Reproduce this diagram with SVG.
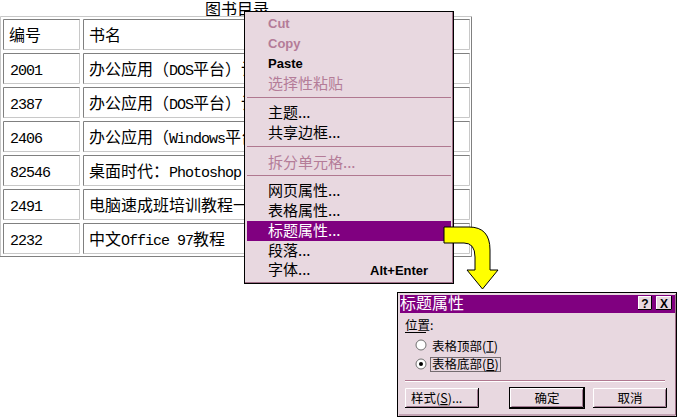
<svg xmlns="http://www.w3.org/2000/svg" width="678" height="418" viewBox="0 0 678 418">
<style>
text{font-family:"Noto Sans CJK SC","Noto Sans CJK JP",sans-serif;fill:#000}
.t{font-size:16px}
.m{font-family:"Liberation Mono",monospace;font-size:15px;letter-spacing:-1px}
.mi{font-size:15px}
.dis{fill:#b47c98}
.en{font-family:"Liberation Sans",Arial,sans-serif;font-weight:bold;font-size:13px}
.sep{stroke:#b07890;stroke-width:1}
.dl{font-size:12.5px}
.lt{stroke:#c8c8c8;fill:none}
.dk{stroke:#808080;fill:none}
</style>
<defs>
<g id="cellA"><path class="dk" d="M0.5,31 V0.5 H77"/><path class="lt" d="M76.5,0.5 V30.5 H0.5"/></g>
<g id="cellB"><path class="dk" d="M0.5,31 V0.5 H387"/><path class="lt" d="M386.5,0.5 V30.5 H0.5"/></g>
<g id="btn">
<rect width="74" height="20" fill="#e8d8e0"/>
<path d="M0.5,19.5 V0.5 H73.5" stroke="#fff" fill="none"/>
<path d="M0,19.5 H73.5 V0" stroke="#000" fill="none"/>
<path d="M1.5,18.5 H72.5 V1.5" stroke="#a07890" fill="none"/>
</g>
</defs>
<rect width="678" height="418" fill="#fff"/>

<g id="table">
<text class="t" x="205" y="15">图书目录</text>
<path class="lt" d="M0.5,256 V16.5 H471"/>
<path class="dk" d="M471.5,16.5 V256.5 H0"/>
<use href="#cellA" x="3" y="19"/><use href="#cellB" x="83" y="19"/>
<use href="#cellA" x="3" y="53"/><use href="#cellB" x="83" y="53"/>
<use href="#cellA" x="3" y="87"/><use href="#cellB" x="83" y="87"/>
<use href="#cellA" x="3" y="121"/><use href="#cellB" x="83" y="121"/>
<use href="#cellA" x="3" y="155"/><use href="#cellB" x="83" y="155"/>
<use href="#cellA" x="3" y="189"/><use href="#cellB" x="83" y="189"/>
<use href="#cellA" x="3" y="223"/><use href="#cellB" x="83" y="223"/>
<text class="t" x="9" y="41">编号</text>
<text class="t" x="89" y="41">书名</text>
<text class="m" x="10" y="75">2001</text>
<text class="t" x="89" y="75">办公应用（<tspan class="m">DOS</tspan>平台）计</text>
<text class="m" x="10" y="109">2387</text>
<text class="t" x="89" y="109">办公应用（<tspan class="m">DOS</tspan>平台）计</text>
<text class="m" x="10" y="143">2406</text>
<text class="t" x="89" y="143">办公应用（<tspan class="m">Windows</tspan>平台</text>
<text class="m" x="10" y="177">82546</text>
<text class="t" x="89" y="177">桌面时代：<tspan class="m">Photoshop</tspan></text>
<text class="m" x="10" y="211">2491</text>
<text class="t" x="89" y="211">电脑速成班培训教程一</text>
<text class="m" x="10" y="245">2232</text>
<text class="t" x="89" y="245">中文<tspan class="m">Office 97</tspan>教程</text>
</g>

<g id="menu">
<rect x="244.5" y="11.5" width="209" height="272" fill="#e8d8e0" stroke="#000"/>
<path d="M452.5,12 V283 M245,282.5 H453" stroke="#a07088" fill="none"/>
<text class="en dis" x="268" y="28">Cut</text>
<text class="en dis" x="268" y="48">Copy</text>
<text class="en" x="268" y="68">Paste</text>
<text class="mi dis" x="268" y="89">选择性粘贴</text>
<line class="sep" x1="247" y1="97.5" x2="451" y2="97.5"/>
<text class="mi" x="268" y="118">主题...</text>
<text class="mi" x="268" y="138">共享边框...</text>
<line class="sep" x1="247" y1="146.5" x2="451" y2="146.5"/>
<text class="mi dis" x="268" y="168">拆分单元格...</text>
<line class="sep" x1="247" y1="175.5" x2="451" y2="175.5"/>
<text class="mi" x="268" y="196">网页属性...</text>
<text class="mi" x="268" y="216">表格属性...</text>
<rect x="247" y="221" width="204" height="20" fill="#800080"/>
<text class="mi" x="268" y="236" style="fill:#fff">标题属性...</text>
<text class="mi" x="268" y="256">段落...</text>
<text class="mi" x="268" y="275">字体...</text>
<text class="en" x="370" y="275">Alt+Enter</text>
</g>

<g id="connectors">
<path d="M444,227 H469 Q490,227 490,250 V270 H498 L482.5,289 L467,270 H475 V257 Q475,243 464,243 H444 Z" fill="#ffff00" stroke="#000" stroke-width="1"/>
</g>

<g id="dialog">
<rect x="397.5" y="292.5" width="279" height="124" fill="#e8d8e0" stroke="#000"/>
<path d="M675.5,294 V415 H399" stroke="#a07088" fill="none"/>
<rect x="400" y="295" width="275" height="18" fill="#800080"/>
<text x="400" y="309" style="font-size:16px;fill:#fff">标题属性</text>
<rect x="638" y="296" width="14" height="14" fill="#e8d8e0"/>
<path d="M638.5,309.5 V296.5 H651.5" stroke="#fff" fill="none"/>
<path d="M638,309.5 H651.5 V296" stroke="#000" fill="none"/>
<text x="645" y="307.5" text-anchor="middle" style="font-family:'Liberation Sans',Arial,sans-serif;font-weight:bold;font-size:12px">?</text>
<rect x="656" y="296" width="16" height="14" fill="#e8d8e0"/>
<path d="M656.5,309.5 V296.5 H671.5" stroke="#fff" fill="none"/>
<path d="M656,309.5 H671.5 V296" stroke="#000" fill="none"/>
<text x="664" y="307.5" text-anchor="middle" style="font-family:'Liberation Sans',Arial,sans-serif;font-weight:bold;font-size:12px">X</text>
<text class="dl" x="405" y="330">位置:</text>
<line x1="405" y1="332.5" x2="426" y2="332.5" stroke="#000"/>
<circle cx="421" cy="345" r="5" fill="#fff" stroke="#707070"/>
<text class="dl" x="432" y="350.5">表格顶部(<tspan style="text-decoration:underline">T</tspan>)</text>
<circle cx="421" cy="364" r="5" fill="#fff" stroke="#707070"/>
<circle cx="421" cy="364" r="2" fill="#000"/>
<text class="dl" x="432" y="369">表格底部(<tspan style="text-decoration:underline">B</tspan>)</text>
<rect x="430.5" y="357.5" width="70" height="14" fill="none" stroke="#000" stroke-dasharray="1 1"/>
<line x1="405" y1="380.5" x2="665" y2="380.5" stroke="#b07890"/>
<line x1="405" y1="381.5" x2="665" y2="381.5" stroke="#fff"/>
<use href="#btn" x="405" y="388"/>
<text class="dl" x="411" y="403">样式(<tspan style="text-decoration:underline">S</tspan>)...</text>
<rect x="509.5" y="387.5" width="75" height="21" fill="none" stroke="#000"/>
<use href="#btn" x="510" y="388"/>
<text class="dl" x="547" y="403" text-anchor="middle">确定</text>
<use href="#btn" x="593" y="388"/>
<text class="dl" x="630" y="403" text-anchor="middle">取消</text>
</g>
</svg>
